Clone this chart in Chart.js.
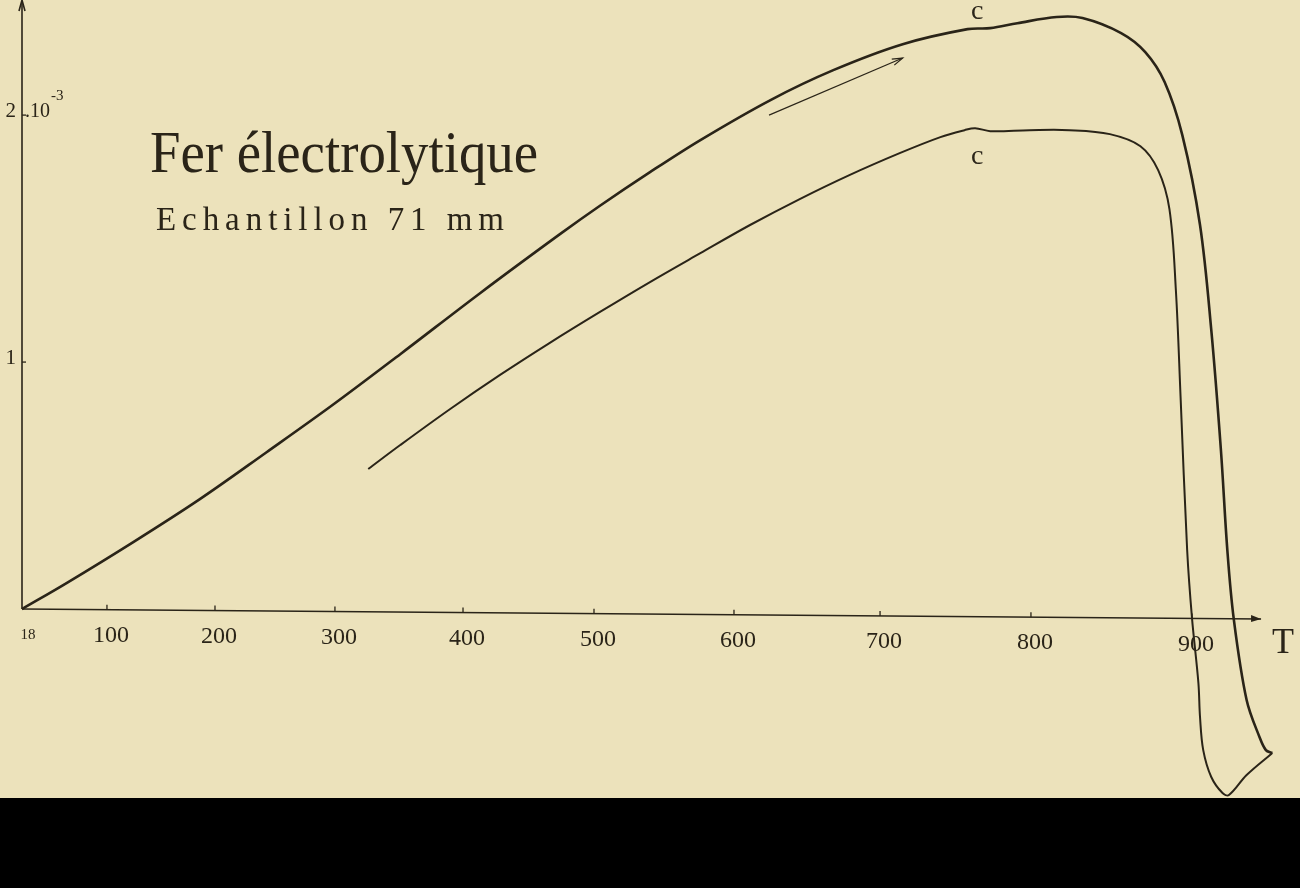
<!DOCTYPE html>
<html lang="fr">
<head>
<meta charset="utf-8">
<title>Fer électrolytique</title>
<script src="https://cdn.jsdelivr.net/npm/chart.js@4.4.1/dist/chart.umd.min.js"></script>
<style>
  html, body { margin: 0; padding: 0; background: #000; }
  #feuille { position: relative; width: 1300px; height: 798px; background: #ece2bb; }
</style>
</head>
<body>
<div id="feuille"><canvas id="courbe" width="1300" height="798"></canvas></div>
<script>
// ── Données (T en °C, dilatation en 10^-3) ─────────────────────────────
const graduationsT = [18, 100, 200, 300, 400, 500, 600, 700, 800, 900];
const graduationsD = [1, 2];

// chauffage (courbe extérieure)
const chauffageT = [18, 61, 124, 186, 243, 298, 351, 413, 474, 504, 540, 576, 625, 668, 715, 758, 773, 791, 816, 832, 856, 871, 883, 894, 905, 912, 918, 922, 926, 934, 942, 946, 950];
const chauffageD = [0, 0.105, 0.270, 0.445, 0.635, 0.826, 1.032, 1.279, 1.518, 1.632, 1.769, 1.899, 2.061, 2.182, 2.287, 2.348, 2.352, 2.372, 2.397, 2.393, 2.332, 2.255, 2.134, 1.919, 1.555, 1.130, 0.644, 0.239, -0.040, -0.368, -0.518, -0.571, -0.583];

// refroidissement (courbe intérieure)
const refroidT = [950, 934, 923, 919, 912, 907, 905, 904, 900, 897, 893, 890, 886, 879, 868, 849, 824, 799, 773, 763, 756, 740, 713, 679, 645, 611, 576, 540, 504, 466, 428, 390, 351, 326];
const refroidD = [-0.583, -0.672, -0.753, -0.745, -0.680, -0.571, -0.437, -0.300, -0.036, 0.239, 0.846, 1.291, 1.619, 1.777, 1.874, 1.923, 1.939, 1.939, 1.935, 1.947, 1.939, 1.911, 1.846, 1.757, 1.660, 1.555, 1.441, 1.324, 1.202, 1.077, 0.947, 0.810, 0.664, 0.567];

// flèche du sens de parcours
const flecheT = [624, 715];
const flecheD = [2.0, 2.231];

// marques « c »
const marquesT = [763, 763];
const marquesD = [2.42, 1.83];

// ── Échelle en T tracée à la main (graduations irrégulières) ──────────
const axeTemp = [18, 100, 200, 300, 400, 500, 600, 700, 800, 900, 961];
const axeFrac = [0, 0.0670, 0.1522, 0.2468, 0.3478, 0.4511, 0.5615, 0.6767, 0.7957, 0.9227, 1];

function interp(v, de, vers) {
    let i = 0;
    while (i < de.length - 2 && v > de[i + 1]) i++;
    const t = (v - de[i]) / (de[i + 1] - de[i]);
    return vers[i] + t * (vers[i + 1] - vers[i]);
}

class EchelleTracee extends Chart.LinearScale {
    static id = 'tracee';
    static defaults = {};
    getPixelForValue(v) {
        if (v === null || isNaN(v)) return NaN;
        return this.getPixelForDecimal(interp(v, axeTemp, axeFrac));
    }
    getValueForPixel(p) {
        return interp(this.getDecimalForPixel(p), axeFrac, axeTemp);
    }
}
Chart.register(EchelleTracee);

const encre = '#2a2418';
const police = '"Liberation Serif", "DejaVu Serif", serif';

function points(xs, ys) { return xs.map(function (v, i) { return { x: v, y: ys[i] }; }); }

// texte : largeur imposée par compression ou par espacement des lettres
function texte(ctx, s, x, y, taille, opts) {
    opts = opts || {};
    ctx.save();
    ctx.font = taille + 'px ' + police;
    ctx.textBaseline = opts.base || 'alphabetic';
    ctx.textAlign = opts.align || 'left';
    if (opts.espace) {
        const w0 = ctx.measureText(s).width;
        ctx.letterSpacing = ((opts.espace - w0) / (s.length - 1)).toFixed(2) + 'px';
    }
    ctx.translate(x, y);
    if (opts.largeur) ctx.scale(opts.largeur / ctx.measureText(s).width, 1);
    ctx.fillText(s, 0, 0);
    ctx.restore();
}

// ── Axes, graduations, flèches, inscriptions ─────────────────────────
const decor = {
    id: 'decor',
    afterDatasetsDraw(chart) {
        const ctx = chart.ctx, x = chart.scales.x, y = chart.scales.y;
        const x0 = x.getPixelForValue(18), y0 = y.getPixelForValue(0);
        const haut = chart.chartArea.top;
        const xFin = x.getPixelForValue(943);
        // l'axe des T, tracé à la main, descend légèrement vers la droite
        const pente = 10 / (xFin - x0);
        const yAxe = function (px) { return y0 + (px - x0) * pente; };

        ctx.save();
        ctx.strokeStyle = encre; ctx.fillStyle = encre;
        ctx.lineWidth = 1.6;

        // axe vertical
        ctx.beginPath(); ctx.moveTo(x0, haut + 2); ctx.lineTo(x0, y0); ctx.stroke();
        ctx.beginPath(); ctx.moveTo(x0 - 3, haut + 11); ctx.lineTo(x0, haut); ctx.lineTo(x0 + 3, haut + 11); ctx.stroke();

        // axe horizontal
        ctx.beginPath(); ctx.moveTo(x0, y0); ctx.lineTo(xFin, yAxe(xFin)); ctx.stroke();
        const yf = yAxe(xFin);
        ctx.beginPath(); ctx.moveTo(xFin - 10, yf - 4); ctx.lineTo(xFin, yf); ctx.lineTo(xFin - 10, yf + 3); ctx.closePath(); ctx.fill();

        // graduations et libellés
        ctx.lineWidth = 1.3;
        graduationsT.forEach(function (t) {
            const px = x.getPixelForValue(t), py = yAxe(px);
            if (t !== 18) { ctx.beginPath(); ctx.moveTo(px, py); ctx.lineTo(px, py - 5); ctx.stroke(); }
            texte(ctx, String(t), px + (t === 18 ? 6 : 4), py + 26, t === 18 ? 15 : 24, { align: 'center', base: 'middle' });
        });
        graduationsD.forEach(function (d) {
            const py = y.getPixelForValue(d);
            ctx.beginPath(); ctx.moveTo(x0, py); ctx.lineTo(x0 + 4, py); ctx.stroke();
            texte(ctx, String(d), x0 - 6, py - 4, 21, { align: 'right', base: 'middle' });
        });

        // unité 10^-3 à côté de la graduation 2
        const p2 = y.getPixelForValue(2);
        texte(ctx, '.10', x0 + 3, p2 + 2, 20);
        texte(ctx, '-3', x0 + 29, p2 - 15, 15);

        // flèche
        const ax = x.getPixelForValue(flecheT[0]), ay = y.getPixelForValue(flecheD[0]);
        const bx = x.getPixelForValue(flecheT[1]), by = y.getPixelForValue(flecheD[1]);
        const ang = Math.atan2(by - ay, bx - ax);
        ctx.lineWidth = 1.2;
        ctx.beginPath(); ctx.moveTo(ax, ay); ctx.lineTo(bx, by); ctx.stroke();
        ctx.beginPath();
        ctx.moveTo(bx - 11 * Math.cos(ang - 0.3), by - 11 * Math.sin(ang - 0.3));
        ctx.lineTo(bx, by);
        ctx.lineTo(bx - 11 * Math.cos(ang + 0.3), by - 11 * Math.sin(ang + 0.3));
        ctx.stroke();

        // « c »
        marquesT.forEach(function (t, i) {
            texte(ctx, 'c', x.getPixelForValue(t) + 2, y.getPixelForValue(marquesD[i]), 28, { align: 'center', base: 'middle' });
        });

        // titres
        texte(ctx, 'Fer électrolytique', 150, 172, 60, { largeur: 388 });
        texte(ctx, 'Echantillon 71 mm', 156, 230, 33, { espace: 348 });

        // T
        texte(ctx, 'T', xFin + 22, yf + 24, 36, { align: 'center', base: 'middle' });
        ctx.restore();
    }
};

new Chart(document.getElementById('courbe').getContext('2d'), {
    type: 'line',
    data: {
        datasets: [{
            label: 'chauffage',
            data: points(chauffageT, chauffageD),
            borderColor: encre, borderWidth: 2.6,
            pointRadius: 0, tension: 0.35, clip: false
        }, {
            label: 'refroidissement',
            data: points(refroidT, refroidD),
            borderColor: encre, borderWidth: 2,
            pointRadius: 0, tension: 0.35, clip: false
        }]
    },
    options: {
        responsive: false, animation: false,
        layout: { padding: { left: 22, right: 10, top: 0, bottom: 0 } },
        plugins: { legend: { display: false }, tooltip: { enabled: false } },
        scales: {
            x: {
                type: 'tracee', min: 18, max: 961,
                position: { y: 0 },
                grid: { display: false, drawTicks: false },
                border: { display: false },
                ticks: { display: false }
            },
            y: {
                type: 'linear', min: -0.765, max: 2.466,
                position: { x: 18 },
                grid: { display: false, drawTicks: false },
                border: { display: false },
                ticks: { display: false }
            }
        }
    },
    plugins: [decor]
});
</script>
</body>
</html>
